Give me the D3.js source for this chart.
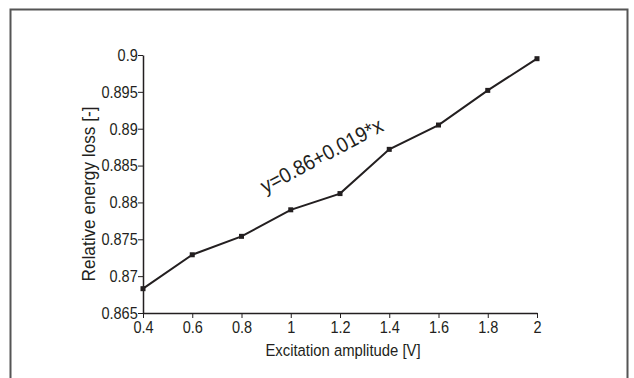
<!DOCTYPE html>
<html>
<head>
<meta charset="utf-8">
<script src="https://cdn.jsdelivr.net/npm/d3@7"></script>
<style>
  html, body { margin: 0; padding: 0; background: #fff; }
  svg { display: block; }
  text { font-family: "Liberation Sans", Arial, sans-serif; fill: #231f20; }
</style>
</head>
<body>
<svg id="chart" width="634" height="378"></svg>
<script>
const amplitudes = [0.4, 0.6, 0.8, 1.0, 1.2, 1.4, 1.6, 1.8, 2.0];
const energyLoss = [0.8683, 0.8729, 0.8754, 0.8790, 0.8812, 0.8872, 0.8905, 0.8952, 0.8995];
const xTicks = [0.4, 0.6, 0.8, 1, 1.2, 1.4, 1.6, 1.8, 2];
const yTicks = [0.865, 0.87, 0.875, 0.88, 0.885, 0.89, 0.895, 0.9];
const xTitle = "Excitation amplitude [V]";
const yTitle = "Relative energy loss [-]";
const fitLabel = "y=0.86+0.019*x";

const ink = "#231f20";
const svg = d3.select("#chart");

// outer frame
svg.append("path")
  .attr("d", "M10.5,380 L10.5,9.5 L627.5,9.5 L627.5,380")
  .attr("fill", "none").attr("stroke", "#555").attr("stroke-width", 2);

const x = d3.scaleLinear().domain([0.4, 2]).range([143, 537]);
const y = d3.scaleLinear().domain([0.865, 0.9]).range([313, 55]);

// axes
const xAxis = svg.append("g").attr("transform", "translate(0,313)")
  .call(d3.axisBottom(x).tickValues(xTicks).tickSize(5).tickPadding(3).tickSizeOuter(0)
    .tickFormat(d3.format("~g")));
const yAxis = svg.append("g").attr("transform", "translate(143,0)")
  .call(d3.axisLeft(y).tickValues(yTicks).tickSize(5).tickPadding(1).tickSizeOuter(0)
    .tickFormat(d3.format("~g")));

[xAxis, yAxis].forEach(g => {
  g.select(".domain").attr("stroke", ink).attr("stroke-width", 1.5);
  g.selectAll(".tick line").attr("stroke", ink).attr("stroke-width", 1);
  g.selectAll(".tick text").attr("font-size", 16.5).attr("fill", ink)
    .attr("font-family", "'Liberation Sans', Arial, sans-serif")
    .attr("transform", "scale(0.88,1)");
});

// line
const line = d3.line().x((d, i) => x(amplitudes[i])).y(d => y(d));
svg.append("path").datum(energyLoss)
  .attr("d", line).attr("fill", "none").attr("stroke", ink).attr("stroke-width", 2);

// markers
svg.selectAll("rect.mk").data(energyLoss).enter().append("rect")
  .attr("class", "mk")
  .attr("x", (d, i) => x(amplitudes[i]) - 2.5)
  .attr("y", d => y(d) - 2.5)
  .attr("width", 5).attr("height", 5).attr("fill", ink);

// titles
svg.append("text").attr("transform", "translate(343,356) scale(0.9,1)")
  .attr("text-anchor", "middle").attr("font-size", 16.5).text(xTitle);
svg.append("text").attr("transform", "translate(95,194) rotate(-90) scale(0.93,1)")
  .attr("text-anchor", "middle").attr("font-size", 18.5).text(yTitle);

// fit annotation
svg.append("text").attr("transform", "translate(325,162) rotate(-28) scale(0.92,1)")
  .attr("text-anchor", "middle").attr("font-size", 21).text(fitLabel);
</script>
</body>
</html>
